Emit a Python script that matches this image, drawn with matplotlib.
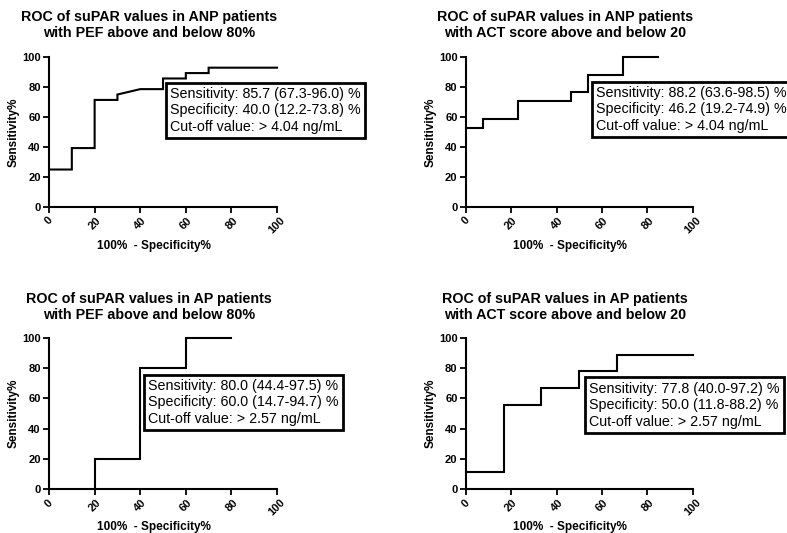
import matplotlib
matplotlib.use("Agg")
import matplotlib.pyplot as plt

plt.rcParams['font.family'] = ['Liberation Sans', 'DejaVu Sans']

# ROC curve points (100% - specificity, sensitivity) for each group
anp_pef_x = [0, 10, 10, 20, 20, 30, 30, 40, 50, 50, 60, 60, 70, 70, 100]
anp_pef_y = [25, 25, 39.3, 39.3, 71.4, 71.4, 75, 78.6, 78.6, 85.7, 85.7, 89.3, 89.3, 92.9, 92.9]

anp_act_x = [0, 7.7, 7.7, 23.1, 23.1, 46.2, 46.2, 53.8, 53.8, 69.2, 69.2, 84.6]
anp_act_y = [52.9, 52.9, 58.8, 58.8, 70.6, 70.6, 76.5, 76.5, 88.2, 88.2, 100, 100]

ap_pef_x = [20, 20, 40, 40, 60, 60, 80]
ap_pef_y = [0, 20, 20, 80, 80, 100, 100]

ap_act_x = [0, 16.7, 16.7, 33.3, 33.3, 50, 50, 66.7, 66.7, 100]
ap_act_y = [11.1, 11.1, 55.6, 55.6, 66.7, 66.7, 77.8, 77.8, 88.9, 88.9]

titles = [
    "ROC of suPAR values in ANP patients\nwith PEF above and below 80%",
    "ROC of suPAR values in ANP patients\nwith ACT score above and below 20",
    "ROC of suPAR values in AP patients\nwith PEF above and below 80%",
    "ROC of suPAR values in AP patients\nwith ACT score above and below 20",
]
stats = [
    "Sensitivity: 85.7 (67.3-96.0) %\nSpecificity: 40.0 (12.2-73.8) %\nCut-off value: > 4.04 ng/mL",
    "Sensitivity: 88.2 (63.6-98.5) %\nSpecificity: 46.2 (19.2-74.9) %\nCut-off value: > 4.04 ng/mL",
    "Sensitivity: 80.0 (44.4-97.5) %\nSpecificity: 60.0 (14.7-94.7) %\nCut-off value: > 2.57 ng/mL",
    "Sensitivity: 77.8 (40.0-97.2) %\nSpecificity: 50.0 (11.8-88.2) %\nCut-off value: > 2.57 ng/mL",
]
curves = [(anp_pef_x, anp_pef_y), (anp_act_x, anp_act_y),
          (ap_pef_x, ap_pef_y), (ap_act_x, ap_act_y)]

# axes rectangles [left, bottom, width, height] and box anchors (data units)
rects = [[0.0623, 0.6116, 0.2897, 0.2814], [0.592, 0.6116, 0.2884, 0.2814],
         [0.0623, 0.082, 0.2897, 0.2844], [0.592, 0.082, 0.2884, 0.2844]]
box_pos = [(53, 80), (57.3, 80.7), (43.4, 72.8), (54.2, 71)]
xlabel_y = [-0.263, -0.263, -0.25, -0.25]
title_x = [0.189, 0.718, 0.189, 0.718]
title_y = [0.953, 0.953, 0.424, 0.424]

fig = plt.figure(figsize=(7.87, 5.33), dpi=100)

for i in range(4):
    ax = fig.add_axes(rects[i])
    x, y = curves[i]
    ax.plot(x, y, color='black', lw=1.5, clip_on=False, solid_joinstyle='miter')
    ax.set_xlim(0, 100)
    ax.set_ylim(0, 100)
    ax.set_xticks(range(0, 101, 20))
    ax.set_yticks(range(0, 101, 20))
    ax.spines['top'].set_visible(False)
    ax.spines['right'].set_visible(False)
    for s in ['left', 'bottom']:
        ax.spines[s].set_linewidth(1.5)
    ax.tick_params(direction='out', length=4, width=1.3, labelsize=8, pad=2)
    for lab in ax.get_xticklabels():
        lab.set_rotation(45)
        lab.set_fontweight('bold')
        lab.set_ha('center')
        lab.set_va('top')
    for lab in ax.get_yticklabels():
        lab.set_fontweight('bold')
    ax.set_xlabel("100%  - Specificity%", fontsize=8.5, fontweight='bold', va='center')
    ax.xaxis.set_label_coords(0.46, xlabel_y[i])
    ax.set_ylabel("Sensitivity%", fontsize=8.5, fontweight='bold', va='center')
    ax.yaxis.set_label_coords(-0.157, 0.5)
    fig.text(title_x[i], title_y[i], titles[i], ha='center', va='center',
             fontsize=10.3, fontweight='bold', linespacing=1.15)
    bx, by = box_pos[i]
    ax.text(bx, by, stats[i], ha='left', va='top', fontsize=10.3, clip_on=False,
            linespacing=1.22, zorder=5,
            bbox=dict(boxstyle='square,pad=0.3', facecolor='white',
                      edgecolor='black', linewidth=2))

fig.savefig("out.png", dpi=100)
